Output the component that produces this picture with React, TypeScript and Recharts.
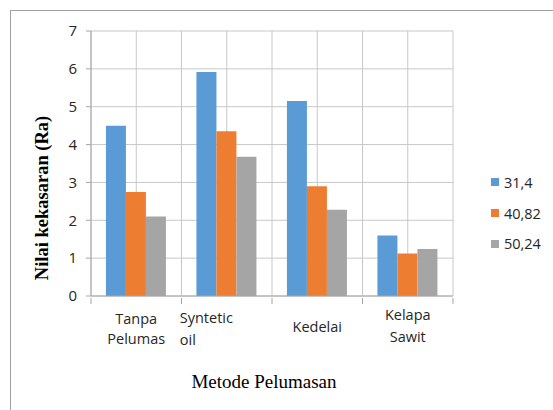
import { BarChart, Bar, XAxis, YAxis, CartesianGrid } from 'recharts';

// Data
const categories = ['Tanpa Pelumas', 'Syntetic oil', 'Kedelai', 'Kelapa Sawit'];
const tickLines = [['Tanpa', 'Pelumas'], ['Syntetic', 'oil'], ['Kedelai'], ['Kelapa', 'Sawit']];
const series314 = [4.5, 5.92, 5.15, 1.6];
const series4082 = [2.75, 4.35, 2.9, 1.12];
const series5024 = [2.1, 3.68, 2.28, 1.24];
const seriesNames = ['31,4', '40,82', '50,24'];
const yTicks = [0, 1, 2, 3, 4, 5, 6, 7];

const colors = ['#5B9BD5', '#ED7D31', '#A5A5A5'];
const sansFont = "'Open Sans', 'Noto Sans', sans-serif";
const serifFont = "'Liberation Serif', 'DejaVu Serif', serif";

const data = categories.map((name, i) => ({
  name,
  s1: series314[i],
  s2: series4082[i],
  s3: series5024[i],
}));

const BAND = 90.5;
// vertical offsets (from tick y) of each label line, per category
const lineOffsets = [[14, 34], [13, 35], [22], [10, 32]];

const CategoryTick = (props: any) => {
  const { x, y, payload, index } = props;
  const lines: string[] = tickLines[index] || [payload.value];
  // Excel wrapped "Syntetic oil" left-aligned
  const leftAligned = index === 1;
  return (
    <g>
      <line x1={x - BAND / 2} y1={y - 6} x2={x - BAND / 2} y2={y} stroke="#a6a6a6" />
      {index === categories.length - 1 && (
        <line x1={x + BAND / 2} y1={y - 6} x2={x + BAND / 2} y2={y} stroke="#a6a6a6" />
      )}
      {lines.map((t, k) => (
        <text
          key={k}
          x={leftAligned ? x - 47 : x}
          y={y + lineOffsets[index][k]}
          textAnchor={leftAligned ? 'start' : 'middle'}
          dominantBaseline="central"
          fontFamily={sansFont}
          fontSize={14.5}
          fill="#262626"
        >
          {t}
        </text>
      ))}
    </g>
  );
};

export default function App() {
  return (
    <div
      style={{
        position: 'absolute',
        left: 0,
        top: 0,
        width: 553,
        height: 410,
        overflow: 'hidden',
        background: '#fff',
      }}
    >
      <div
        style={{
          position: 'absolute',
          left: 10,
          top: 10,
          width: 600,
          height: 450,
          border: '1px solid #a0a0a0',
        }}
      />
      <div style={{ position: 'absolute', left: 0, top: 0 }}>
        <BarChart
          width={553}
          height={410}
          data={data}
          margin={{ top: 31, right: 100, left: 0, bottom: 54 }}
          barCategoryGap="16.5%"
          barGap={0}
        >
          <CartesianGrid
            stroke="#c8c8c8"
            verticalCoordinatesGenerator={({ offset }: any) =>
              Array.from({ length: 9 }, (_, i) => offset.left + (i * offset.width) / 8)
            }
          />
          <XAxis
            dataKey="name"
            height={60}
            interval={0}
            axisLine={{ stroke: '#a6a6a6' }}
            tickLine={false}
            tick={<CategoryTick />}
          />
          <YAxis
            width={91}
            domain={[0, 7]}
            ticks={yTicks}
            interval={0}
            axisLine={{ stroke: '#a6a6a6' }}
            tickLine={{ stroke: '#a6a6a6' }}
            tickSize={5}
            tickMargin={9}
            tick={{ fill: '#262626', fontSize: 15, fontFamily: sansFont }}
          />
          <Bar dataKey="s1" name={seriesNames[0]} fill={colors[0]} isAnimationActive={false} />
          <Bar dataKey="s2" name={seriesNames[1]} fill={colors[1]} isAnimationActive={false} />
          <Bar dataKey="s3" name={seriesNames[2]} fill={colors[2]} isAnimationActive={false} />
          <text
            x={42}
            y={198}
            transform="rotate(-90 42 198)"
            textAnchor="middle"
            dominantBaseline="central"
            fontFamily={serifFont}
            fontWeight="bold"
            fontSize={18.5}
            fill="#000"
          >
            Nilai kekasaran (Ra)
          </text>
          <text
            x={264}
            y={381}
            textAnchor="middle"
            dominantBaseline="central"
            fontFamily={serifFont}
            fontSize={19}
            fill="#000"
          >
            Metode Pelumasan
          </text>
        </BarChart>
      </div>
      {/* Legend */}
      <div
        style={{
          position: 'absolute',
          left: 491,
          top: 167,
          fontFamily: sansFont,
          fontSize: 14.5,
          color: '#262626',
        }}
      >
        {seriesNames.map((n, i) => (
          <div key={n} style={{ display: 'flex', alignItems: 'center', height: 30.7 }}>
            <span
              style={{
                display: 'inline-block',
                width: 8,
                height: 8,
                background: colors[i],
                marginRight: 5,
              }}
            />
            <span>{n}</span>
          </div>
        ))}
      </div>
    </div>
  );
}
